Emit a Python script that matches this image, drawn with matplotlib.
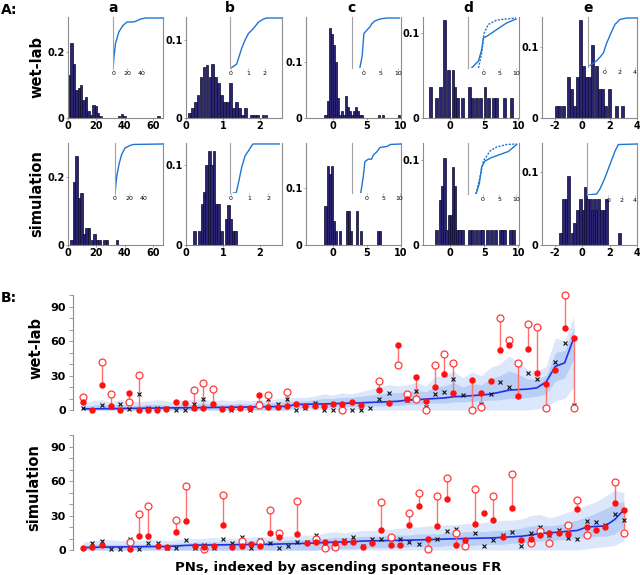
import numpy as np
import matplotlib
matplotlib.use('Agg')
import matplotlib.pyplot as plt
from matplotlib.ticker import MultipleLocator

nan = np.nan

# ---------------- Panel A: histograms ----------------
a_wet_left = [0, 1.7, 3.4, 5.1, 6.8, 8.5, 10.2, 11.9, 13.6, 15.3, 17.0, 18.7, 20.4, 22.1, 35.0, 37.4, 39.1, 63.0]
a_wet_h = [0.13, 0.227, 0.165, 0.085, 0.09, 0.1, 0.055, 0.065, 0.02, 0.01, 0.04, 0.035, 0.015, 0.005, 0.005, 0.012, 0.005, 0.005]
a_sim_left = [1.5, 3.3, 5.1, 6.9, 8.7, 10.5, 12.3, 14.1, 15.9, 17.7, 19.5, 21.3, 24.9, 26.7, 33.9]
a_sim_h = [0.015, 0.185, 0.26, 0.136, 0.153, 0.033, 0.05, 0.05, 0.015, 0.033, 0.015, 0.015, 0.015, 0.015, 0.015]

b_wet_left = [0.05, 0.13, 0.21, 0.29, 0.37, 0.45, 0.53, 0.61, 0.69, 0.77, 0.85, 0.93, 1.01, 1.09,
              1.17, 1.25, 1.33, 1.41, 1.49, 1.57, 1.73, 1.81, 1.89, 2.05, 2.13]
b_wet_h = [0.006, 0.013, 0.021, 0.03, 0.053, 0.066, 0.068, 0.053, 0.07, 0.053, 0.045, 0.03, 0.021, 0.021,
           0.045, 0.013, 0.021, 0.013, 0.004, 0.013, 0.004, 0.004, 0.004, 0.004, 0.004]
b_sim_left = [0.2, 0.33, 0.395, 0.46, 0.525, 0.59, 0.655, 0.72, 0.785, 0.85, 0.915, 1.045, 1.11, 1.175, 1.24, 1.305]
b_sim_h = [0.017, 0.017, 0.052, 0.066, 0.1, 0.118, 0.1, 0.118, 0.052, 0.052, 0.017, 0.033, 0.05, 0.033, 0.017, 0.017]

c_wet_left = [-1.2, -0.9, -0.6, -0.3, 0.0, 0.3, 0.6, 0.9, 1.2, 1.5, 1.8, 2.1, 2.4, 2.7, 3.0, 3.3, 3.6, 3.9, 4.2, 6.6, 7.2, 9.6]
c_wet_h = [0.006, 0.03, 0.16, 0.15, 0.13, 0.1, 0.035, 0.006, 0.012, 0.006, 0.04, 0.02, 0.012, 0.006, 0.012,
           0.02, 0.012, 0.006, 0.006, 0.006, 0.006, 0.006]
c_sim_left = [-1.2, -0.9, -0.6, -0.3, 0.0, 0.3, 0.9, 1.9, 2.2, 2.5, 3.4, 4.0, 6.5, 6.8]
c_sim_h = [0.068, 0.14, 0.125, 0.14, 0.043, 0.025, 0.025, 0.06, 0.06, 0.025, 0.06, 0.025, 0.025, 0.025]

d_wet_left = [-3.1, -2.2, -1.7, -1.1, -0.5, 0.2, 0.5, 0.9, 1.6, 2.6, 3.1, 3.7, 4.2, 4.9, 5.4, 6.1, 6.6, 7.8, 8.8]
d_wet_h = [0.036, 0.024, 0.036, 0.115, 0.057, 0.057, 0.036, 0.024, 0.024, 0.036, 0.024, 0.024, 0.024, 0.036,
           0.024, 0.024, 0.024, 0.024, 0.024]
d_sim_left = [-2.2, -1.7, -1.4, -1.1, -0.8, -0.4, -0.1, 0.2, 0.5, 0.8, 1.1, 1.6, 2.6, 3.0, 3.7, 4.2, 4.5,
              5.3, 5.8, 6.5, 7.2, 7.5, 7.8, 8.6, 9.1]
d_sim_h = [0.018, 0.053, 0.069, 0.102, 0.018, 0.035, 0.035, 0.092, 0.069, 0.018, 0.018, 0.018, 0.018, 0.018,
           0.018, 0.018, 0.018, 0.018, 0.018, 0.018, 0.018, 0.018, 0.018, 0.018, 0.018]

e_wet_left = [-2.0, -1.75, -1.5, -1.15, -0.9, -0.65, -0.45, -0.25, 0.0, 0.2, 0.4, 0.65, 0.9, 1.15, 1.35, 1.6, 1.9, 2.4, 2.8]
e_wet_h = [0.017, 0.017, 0.017, 0.058, 0.041, 0.017, 0.058, 0.138, 0.073, 0.058, 0.058, 0.102, 0.073, 0.041,
           0.041, 0.017, 0.041, 0.017, 0.017]
e_sim_left = [-1.7, -1.5, -1.3, -1.1, -0.85, -0.65, -0.45, -0.25, 0.0, 0.15, 0.3, 0.5, 0.65, 0.8, 0.95,
              1.1, 1.3, 1.5, 1.65, 2.6]
e_sim_h = [0.016, 0.063, 0.063, 0.095, 0.016, 0.03, 0.048, 0.063, 0.048, 0.08, 0.063, 0.063, 0.048, 0.063,
           0.048, 0.063, 0.048, 0.048, 0.063, 0.016]

hist_width = {'a': 1.7, 'b': 0.075, 'c': 0.3, 'd': 0.42, 'e': 0.22}

# CDF insets
a_wet_cdf_x = [0, 1, 3.3, 8, 13.6, 19.7, 26.8, 31, 38.5, 45.5, 69]
a_wet_cdf_y = [0, 0.2, 0.49, 0.72, 0.85, 0.92, 0.92, 0.93, 0.98, 1.0, 1.0]
a_sim_cdf_x = [0, 2.4, 5.7, 9.5, 14.3, 21.4, 26.2, 68]
a_sim_cdf_y = [0, 0.33, 0.59, 0.79, 0.92, 0.97, 0.99, 1.0]
b_wet_cdf_x = [0, 0.16, 0.35, 0.5, 0.65, 0.84, 1.04, 1.33, 1.63, 1.92, 2.1, 3.0]
b_wet_cdf_y = [0, 0.03, 0.08, 0.24, 0.4, 0.56, 0.69, 0.79, 0.92, 0.98, 1.0, 1.0]
b_sim_cdf_x = [0.14, 0.29, 0.41, 0.59, 0.77, 0.95, 1.13, 1.2, 2.6]
b_sim_cdf_y = [0, 0, 0.2, 0.53, 0.76, 0.86, 0.97, 1.0, 1.0]
c_wet_cdf_x = [-0.95, -0.3, 0.2, 0.95, 1.9, 2.4, 3.3, 4.8, 6.7, 10.5]
c_wet_cdf_y = [0, 0.24, 0.69, 0.75, 0.82, 0.88, 0.94, 0.98, 1.0, 1.0]
c_sim_cdf_x = [-1.75, -1, -0.5, 0.5, 1.5, 2.1, 3.1, 4.1, 6.2, 7.2, 10.3]
c_sim_cdf_y = [0, 0.33, 0.64, 0.69, 0.69, 0.78, 0.84, 0.93, 0.95, 0.99, 1.0]
d_wet_cdf_x = [-3.6, -1.5, -0.5, 0, 1.2, 4.1, 7.1, 10]
d_wet_cdf_y = [0, 0.14, 0.37, 0.6, 0.64, 0.77, 0.9, 0.98]
d_wet_cdf2_x = [-1.5, -0.5, 0.2, 1.5, 4.1, 10]
d_wet_cdf2_y = [0, 0.3, 0.69, 0.87, 0.96, 1.0]
d_sim_cdf_x = [-2, -1, -0.3, 0.7, 2.7, 5.2, 7.7, 10.2]
d_sim_cdf_y = [0, 0.21, 0.54, 0.66, 0.73, 0.79, 0.85, 0.99]
d_sim_cdf2_x = [-2, -0.8, 0.2, 2.2, 4.2, 7.2, 10.2]
d_sim_cdf2_y = [0, 0.34, 0.66, 0.86, 0.94, 0.99, 1.0]
e_wet_cdf_x = [-2, -1.1, -0.67, -0.2, 0.2, 0.76, 1.33, 2.0, 2.9, 4.2]
e_wet_cdf_y = [0.03, 0.13, 0.2, 0.29, 0.48, 0.68, 0.87, 0.97, 1.0, 1.0]
e_sim_cdf_x = [-3, -1.75, -1.25, -0.5, 0.25, 1.0, 1.5, 4.25]
e_sim_cdf_y = [0, 0.02, 0.12, 0.34, 0.6, 0.86, 0.99, 1.0]

col_letters = ['a', 'b', 'c', 'd', 'e']
row_names = ['wet-lab', 'simulation']

# ---------------- Panel B data ----------------
top_line = [1.0, 1.0, 1.1, 1.2, 1.3, 1.4, 1.5, 1.6, 1.7, 1.8, 1.9, 2.0,
            2.0, 2.1, 2.2, 2.3, 2.4, 2.5, 2.6, 2.8, 2.9, 3.0, 3.2,
            4.8, 5.0, 5.2, 5.3,
            5.5, 5.8, 6.0, 6.3, 6.6, 6.9, 7.2, 7.6,
            8.6, 9.0, 9.5, 10.0, 10.5, 11.5, 12.0, 12.5, 13.0, 13.8,
            15.5, 17.3, 17.8, 18.2, 19.3, 24.4, 38.0, 41.0, 63.0]
top_outer_hi = [6, 8, 9, 7, 9, 8, 7, 8, 9, 8, 7, 9,
                9, 10, 8, 9, 8, 9, 8, 9, 8, 10, 10,
                11, 11, 12, 14,
                13, 15, 14, 16, 18, 20, 22, 21,
                22, 24, 21, 29, 30, 34, 28, 33, 30, 37,
                40, 47, 42, 35, 34, 38, 63, 60, 82]
top_inner_hi = [3, 4, 5, 4, 5, 4, 4, 5, 5, 4, 4, 5,
                5, 6, 5, 5, 5, 6, 5, 6, 6, 7, 7,
                8, 8, 9, 10,
                10, 11, 11, 12, 13, 14, 15, 15,
                16, 17, 16, 20, 21, 24, 20, 23, 22, 27,
                30, 34, 31, 27, 27, 30, 50, 52, 72]
top_inner_lo = [0, 0, 0, 0, 0, 0, 0, 0, 0, 0, 0, 0,
                0, 0, 0, 0, 0, 0, 0, 0, 0, 0, 0,
                2, 2, 2, 2,
                2.5, 3, 3, 3, 3.5, 3.5, 4, 4,
                5, 5, 5.5, 6, 6, 7, 7, 7.5, 8, 8.5,
                9, 10, 10, 11, 12, 14, 25, 28, 45]
top_outer_lo = [0] * 45 + [0, 0, 0, 0, 1, 2, 8, 10, 20]
top_filled = [7.2, 0, 21.6, 3.7, 0, 15.2, 0, 0, 0, 1, 7.2, 5.8,
              2, 2, 5, 0.6, 2, 2, 2, 13, 2.9, 2.9, 3.7,
              5, 3.7, 3.5, 3.7,
              5, 5, 6.6, 4.3, nan, 17.8, 5.8, 57,
              9.2, 28.8, 7.8, 19.6, 31.6, 15, nan, 26, 15.2, 25,
              52.6, 57, 12, 53, 32, 23, 35, 71, 63]
top_open = [11.2, nan, 41.7, 13.5, nan, 7.2, 30.8, nan, nan, nan, nan, nan,
            17.3, 23.6, 18, nan, nan, nan, nan, 4.3, 13, nan, 15.5,
            nan, nan, nan, nan,
            nan, 0, nan, nan, nan, 25, nan, 38.8,
            13.5, 9.2, 0, 38.8, 49, 40.8, nan, 0, 2.9, nan,
            80, 61, 41, 75, 72, 1.4, nan, 100, 1.4]
top_black = [2, nan, 4.3, 3, 5, 0.6, 13.8, 1.4, 1.4, 1.4, 0, 0,
             5.2, 9.5, 5, 0.6, 0, 1.4, 0, 6.3, 9.5, 5, 10,
             0, 2, 5.8, 0,
             0, nan, 0, 0, 2, 10, 14.4, nan,
             8.6, 16.4, 2.3, 14, 15.8, 26.7, 13, 0, 5, 13.5,
             24.4, 20, 41, 32, 26.7, nan, 42, 58, 4.3]

bot_line = [2.0,
            2.3, 2.5, 2.6, 2.7, 2.8, 2.9, 3.0, 3.0, 3.1,
            3.5, 4.0, 4.3, 4.3, 4.4, 4.5,
            4.6, 4.7, 4.8, 4.9, 5.0, 5.2, 5.4, 5.6, 5.8, 6.2,
            6.6, 6.8, 7.0, 7.3, 7.8, 8.0, 8.1, 8.3, 8.5, 8.6,
            8.8, 9.0, 9.3, 9.6, 9.8, 10.0, 10.2, 10.4, 10.6, 11.0, 11.5,
            12.0, 13.0, 14.4, 15.0, 15.5, 16.4, 17.0, 20.0, 20.5, 21.0, 26.5, 35.0]
bot_outer_hi = [7, 8, 9, 9, 8, 9, 8, 9, 9, 8,
                9, 10, 10, 10, 11, 10,
                10, 11, 11, 12, 11, 12, 12, 13, 13, 13,
                15, 16, 15, 16, 17, 17, 18, 18, 19, 20,
                20, 21, 21, 22, 22, 23, 23, 24, 25, 26, 26,
                27, 30, 31, 28, 30, 33, 36, 39, 42, 47, 52, 50]
bot_inner_hi = [4, 5, 5, 5, 5, 5, 5, 5, 5, 5,
                6, 6, 7, 7, 7, 7,
                7, 7, 8, 8, 8, 8, 9, 9, 9, 10,
                10, 11, 11, 11, 12, 12, 12, 13, 13, 13,
                14, 14, 14, 15, 15, 16, 16, 16, 17, 17, 18,
                19, 21, 22, 21, 22, 24, 26, 29, 32, 36, 40, 42]
bot_inner_lo = [0] * 26 + [1, 1, 1, 1, 2, 2, 2, 2, 2, 3,
                           3, 3, 3, 4, 4, 4, 4, 5, 5, 5, 6,
                           6, 7, 8, 8, 9, 9, 10, 11, 12, 12, 14, 20]
bot_outer_lo = [0] * 54 + [1, 2, 3, 4, 8]
bot_filled = [1.4, 2.9, 4.3, nan, nan, 0.9, 12.4, 12.4, 3.5, 2.9,
              15.8, 25.6, 3.7, 2.9, 3.7, 22,
              2.9, 3.7, 5.2, 3.7, 14.4, 11.5, nan, 13.8, 6.3, 6.6,
              6.6, 5.8, 6.6, 6.6, 2.9, 5.8, 17.3, 4.3, 4.3, 22,
              38, 9.2, 20.7, 44.6, 4.3, 8.6, 22.7, 32.5, 26, 11.2, 36.5,
              8.6, 10, 13, 15.2, 15.2, 13.5, 36, 20, 17, 20, 40.6, 35]
bot_open = [nan, nan, nan, nan, nan, 6.6, 31.6, 38, nan, nan,
            26, 55.5, nan, 0.6, nan, 47.5,
            nan, 7.8, nan, 7.2, 34.5, 15, nan, 43, nan, 10,
            1.4, 2.3, nan, nan, nan, nan, 41.7, 11.5, nan, 32.2,
            50, 0.9, 46.6, 62.4, 15.2, 3.5, 53, nan, 46.6, nan, 66.4,
            nan, 6, 16.4, 6, nan, 22, 43.4, 13, nan, nan, 59.5, 15]
bot_black = [nan, 5.8, 7.8, 0.9, 0.9, 10, 0.9, 5.8, 5.8, 1.4,
             1.4, 8.6, 1.4, 4.3, 1.4, 10,
             5.8, 11, 1.4, 8.6, 5.8, 1.4, 3.7, 7.2, 7.2, 13,
             2, nan, 8.6, 11, 3.5, 10, 9.5, 9.5, 9.5, 7.2,
             5.2, nan, 10, 16.4, 18.1, 8, 15.2, 3.2, 8.6, 13, 15.8,
             3.5, 14.4, 20, 13, 17, 10.6, 10, 25.3, 24.7, 21.6, 31, 26.5]

yticks_B = [0, 30, 60, 90]

# ---------------- drawing ----------------
fig = plt.figure(figsize=(6.4, 5.75), dpi=100)
W, H = 640.0, 575.0


def px_axes(x0, x1, y0, y1, **kw):
    return fig.add_axes([x0 / W, 1 - y1 / H, (x1 - x0) / W, (y1 - y0) / H], **kw)


cols_px = [(68, 163), (186, 282), (306, 401), (423, 519), (542, 637)]
rows_px = [(17, 118), (143, 245)]
hist_xlim = [(0, 67), (0, 2.6), (-3.9, 9.7), (-4, 10.1), (-2.95, 3.95)]
hist_xticks = [[0, 20, 40, 60], [0, 1, 2], [0, 5, 10], [0, 5, 10], [-2, 0, 2, 4]]
hist_ylim = [[0.306, 0.13, 0.18, 0.119, 0.142], [0.298, 0.128, 0.18, 0.12, 0.14]]
hist_ytick = [0.2, 0.1, 0.1, 0.1, 0.1]

hists = [[(a_wet_left, a_wet_h), (b_wet_left, b_wet_h), (c_wet_left, c_wet_h), (d_wet_left, d_wet_h), (e_wet_left, e_wet_h)],
         [(a_sim_left, a_sim_h), (b_sim_left, b_sim_h), (c_sim_left, c_sim_h), (d_sim_left, d_sim_h), (e_sim_left, e_sim_h)]]
cdfs = [[(a_wet_cdf_x, a_wet_cdf_y), (b_wet_cdf_x, b_wet_cdf_y), (c_wet_cdf_x, c_wet_cdf_y), (d_wet_cdf_x, d_wet_cdf_y), (e_wet_cdf_x, e_wet_cdf_y)],
        [(a_sim_cdf_x, a_sim_cdf_y), (b_sim_cdf_x, b_sim_cdf_y), (c_sim_cdf_x, c_sim_cdf_y), (d_sim_cdf_x, d_sim_cdf_y), (e_sim_cdf_x, e_sim_cdf_y)]]
cdfs2 = [(d_wet_cdf2_x, d_wet_cdf2_y), (d_sim_cdf2_x, d_sim_cdf2_y)]

inset_px = [[(113, 163, 17, 68), (230, 282, 17, 68), (352, 400, 17, 68), (468, 518, 17, 68), (588, 637, 17, 67)],
            [(115, 163, 143, 193), (230, 280, 143, 193), (352, 402, 143, 193), (468, 518, 143, 194), (587, 637, 143, 195)]]
inset_xlim = [[(-0.2, 70), (-0.04, 3.0), (-3.2, 10.5), (-4.7, 10.6), (-2.27, 4.27)],
              [(0, 68), (-0.04, 2.64), (-4.4, 10.7), (-4.4, 10.6), (-3.2, 4.3)]]
inset_xticks = [[0, 20, 40], [0, 1, 2], [0, 5, 10], [0, 5, 10], [0, 2, 4]]

gray = '#8c8c8c'
bar_keys = ['a', 'b', 'c', 'd', 'e']

for r in range(2):
    for c in range(5):
        x0, x1 = cols_px[c]
        y0, y1 = rows_px[r]
        ax = px_axes(x0, x1, y0, y1)
        lefts, heights = hists[r][c]
        ax.bar(lefts, heights, width=hist_width[bar_keys[c]], align='edge',
               color='#2a2472', edgecolor='#0c0b2a', linewidth=0.5)
        ax.set_xlim(*hist_xlim[c])
        ax.set_ylim(0, hist_ylim[r][c])
        ax.set_xticks(hist_xticks[c])
        ax.set_xticklabels([str(t) for t in hist_xticks[c]])
        yt = hist_ytick[c]
        ax.set_yticks([0, yt])
        ax.set_yticklabels(['0', str(yt)])
        ax.tick_params(axis='both', labelsize=7, length=1.5, width=0.6, color=gray, pad=1)
        for lab in ax.get_xticklabels() + ax.get_yticklabels():
            lab.set_fontweight('bold')
        ax.spines['top'].set_visible(False)
        for s in ['left', 'right', 'bottom']:
            ax.spines[s].set_color(gray)
            ax.spines[s].set_linewidth(0.8)
        ax.patch.set_alpha(0)

        ix0, ix1, iy0, iy1 = inset_px[r][c]
        ins = px_axes(ix0, ix1, iy0, iy1)
        ins.patch.set_alpha(0)
        cx, cy = cdfs[r][c]
        ins.plot(cx, cy, color='#1d76d2', lw=1.0)
        if c == 3:
            c2x, c2y = cdfs2[r]
            ins.plot(c2x, c2y, color='#1d76d2', lw=1.0, ls=(0, (1.5, 1)))
        ins.set_xlim(*inset_xlim[r][c])
        ins.set_ylim(0, 1.02)
        ins.set_xticks(inset_xticks[c])
        ins.set_yticks([])
        ins.tick_params(axis='x', labelsize=4.5, length=1.2, width=0.4, pad=1, color=gray)
        for s in ['top', 'right', 'bottom']:
            ins.spines[s].set_visible(False)
        ins.spines['left'].set_color('#a0a0a0')
        ins.spines['left'].set_linewidth(0.8)

        if r == 0:
            fig.text(ix0 / W, 1 - 8 / H, col_letters[c], fontsize=10, fontweight='bold',
                     ha='center', va='center')

fig.text(37 / W, 1 - 67 / H, row_names[0], rotation=90, fontsize=10.5, fontweight='bold',
         ha='center', va='center')
fig.text(37 / W, 1 - 194 / H, row_names[1], rotation=90, fontsize=10.5, fontweight='bold',
         ha='center', va='center')
fig.text(1 / W, 1 - 10 / H, 'A:', fontsize=10, fontweight='bold', ha='left', va='center')
fig.text(1 / W, 1 - 298 / H, 'B:', fontsize=10, fontweight='bold', ha='left', va='center')


def draw_B(ax, line, o_lo, o_hi, i_lo, i_hi, filled, opened, black, xlim):
    n = len(line)
    idx = np.arange(n)
    ax.fill_between(idx, o_lo, o_hi, color='#dce7fb', lw=0, zorder=1)
    ax.fill_between(idx, i_lo, i_hi, color='#b9cff5', lw=0, zorder=2)
    ax.plot(idx, line, color='#2230e8', lw=1.2, zorder=3)
    for i in range(n):
        f, o = filled[i], opened[i]
        if not np.isnan(f) and not np.isnan(o):
            ax.plot([i, i], [f, o], color='#ff7070', lw=1.0, zorder=4, clip_on=False)
    ax.plot(idx, black, ls='none', marker='x', ms=2.3, mew=0.8, color='#111111', zorder=5)
    ax.plot(idx, opened, ls='none', marker='o', ms=5, mfc='white', mec='#ff3a3a', mew=0.9,
            zorder=6, clip_on=False)
    ax.plot(idx, filled, ls='none', marker='o', ms=3.6, color='#ff1010', zorder=7, clip_on=False)
    ax.set_xlim(*xlim)
    ax.set_ylim(-2, 101)
    ax.set_yticks(yticks_B)
    ax.set_yticklabels([str(t) for t in yticks_B])
    ax.yaxis.set_minor_locator(MultipleLocator(10))
    ax.set_xticks([])
    ax.tick_params(axis='y', which='both', labelsize=8, length=3, width=0.6, color=gray, pad=2)
    for lab in ax.get_yticklabels():
        lab.set_fontweight('bold')
    for s in ['top', 'right', 'bottom']:
        ax.spines[s].set_visible(False)
    ax.spines['left'].set_color(gray)
    ax.spines['left'].set_linewidth(0.8)
    ax.spines['left'].set_bounds(0, 100)
    ax.patch.set_alpha(0)


axB1 = px_axes(73, 585, 294, 412.3)
draw_B(axB1, top_line, top_outer_lo, top_outer_hi, top_inner_lo, top_inner_hi,
       top_filled, top_open, top_black, (-1.08, 54.2))
axB2 = px_axes(73, 637, 434, 552.3)
draw_B(axB2, bot_line, bot_outer_lo, bot_outer_hi, bot_inner_lo, bot_inner_hi,
       bot_filled, bot_open, bot_black, (-1.07, 59.4))

fig.text(36 / W, 1 - 348 / H, row_names[0], rotation=90, fontsize=10.5, fontweight='bold',
         ha='center', va='center')
fig.text(34 / W, 1 - 488 / H, row_names[1], rotation=90, fontsize=10.5, fontweight='bold',
         ha='center', va='center')
fig.text(338 / W, 1 - 567 / H, 'PNs, indexed by ascending spontaneous FR', fontsize=9.5,
         fontweight='bold', ha='center', va='center')

fig.savefig('out.png', dpi=100)
